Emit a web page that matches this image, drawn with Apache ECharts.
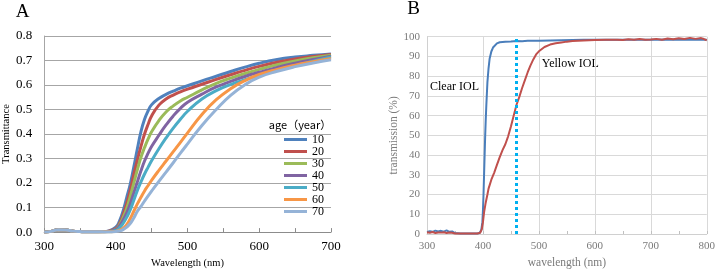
<!DOCTYPE html>
<html><head><meta charset="utf-8">
<script src="https://cdn.jsdelivr.net/npm/echarts@6/dist/echarts.min.js"></script>
<style>html,body{margin:0;padding:0;background:#fff}#c{width:718px;height:274px}</style>
</head><body><div id="c"></div>
<script>
// ---------- Panel A data ----------
const waveA = [300,310,320,330,340,350,360,370,380,390,400,405,410,415,420,425,430,435,440,445,450,460,470,480,490,500,520,540,560,580,600,625,650,675,700];
const ageNames = ['10','20','30','40','50','60','70'];
const age10 = [0,0.003,0.01,0.009,0.004,0.002,0.001,0.001,0.002,0.005,0.02,0.045,0.085,0.14,0.195,0.265,0.34,0.41,0.46,0.495,0.52,0.545,0.562,0.575,0.587,0.597,0.617,0.636,0.655,0.673,0.689,0.704,0.714,0.721,0.727];
const age20 = [0,0.003,0.01,0.009,0.004,0.002,0.001,0.001,0.001,0.004,0.015,0.035,0.07,0.115,0.17,0.235,0.295,0.35,0.4,0.44,0.475,0.518,0.543,0.559,0.572,0.583,0.603,0.623,0.642,0.66,0.676,0.693,0.706,0.716,0.725];
const age30 = [0,0.003,0.01,0.009,0.004,0.002,0.001,0.001,0.001,0.003,0.012,0.03,0.058,0.095,0.145,0.2,0.255,0.305,0.345,0.38,0.41,0.455,0.49,0.515,0.535,0.55,0.58,0.607,0.628,0.647,0.664,0.683,0.698,0.711,0.722];
const age40 = [0,0.003,0.01,0.009,0.004,0.002,0.001,0.001,0.001,0.002,0.01,0.025,0.048,0.078,0.115,0.16,0.205,0.25,0.29,0.322,0.35,0.395,0.437,0.474,0.505,0.53,0.563,0.592,0.615,0.635,0.652,0.672,0.689,0.704,0.718];
const age50 = [0,0.003,0.01,0.009,0.004,0.002,0.001,0.001,0.001,0.001,0.007,0.017,0.035,0.06,0.09,0.13,0.17,0.205,0.237,0.265,0.292,0.34,0.384,0.424,0.46,0.493,0.543,0.577,0.602,0.622,0.64,0.661,0.679,0.697,0.714];
const age60 = [0,0.003,0.01,0.009,0.004,0.002,0.001,0.001,0.001,0.001,0.003,0.008,0.015,0.03,0.055,0.085,0.115,0.142,0.168,0.19,0.212,0.252,0.29,0.328,0.366,0.405,0.48,0.54,0.585,0.618,0.643,0.664,0.681,0.695,0.708];
const age70 = [0,0.003,0.01,0.009,0.004,0.002,0.001,0.001,0.001,0,0.002,0.005,0.01,0.02,0.035,0.058,0.085,0.105,0.127,0.148,0.168,0.207,0.245,0.283,0.322,0.36,0.435,0.5,0.558,0.601,0.632,0.656,0.675,0.69,0.703];
const ageColors = ['#4f81bd','#c0504d','#9bbb59','#8064a2','#4bacc6','#f79646','#95b3d7'];

// ---------- Panel B data ----------
const clearWave = [300,305,310,315,320,325,330,335,340,345,350,360,370,380,390,394,397,399,400,401,402,403,404,405,406,407,408,410,412,415,418,420,425,430,440,450,460,470,480,490,500,520,540,560,580,600,650,700,750,800];
const clearVal  = [1.0,1.4,1.1,1.7,1.3,1.6,1.2,1.8,1.1,1.3,0.5,0.3,0.3,0.3,0.3,0.5,2,6,12,20,30,40,50,58,65,71,77,84,89,92.5,94.5,95.3,96.6,97.2,97.5,97.6,97.8,97.7,97.9,97.9,98,98.1,98.2,98.3,98.4,98.4,98.4,98.5,98.6,98.5];
const yellowWave = [300,305,310,315,320,325,330,335,340,345,350,360,370,380,390,395,398,400,402,405,408,410,415,420,425,430,435,440,445,450,455,460,465,470,475,480,485,490,495,500,510,520,530,540,550,560,580,600,620,640,650,660,670,680,690,700,710,720,730,740,750,760,770,780,790,795,800];
const yellowVal  = [0.9,0.6,1.0,0.5,0.8,0.7,0.9,0.5,0.8,0.6,0.3,0.2,0.2,0.2,0.3,0.6,2.5,6,11,16,20,23,27.5,31,35,39,42.5,45.5,49.5,54.5,60,65.5,69.5,74,78,82,85.5,88.5,91,92.6,94.8,96,96.7,97.1,97.5,97.8,98.1,98.3,98.4,98.5,98.3,98.7,98.4,98.8,98.5,98.6,98.9,98.5,99.1,98.7,99.2,98.8,99.4,98.9,99.3,98.8,98.2];
const markerWave = 460;
const markerRange = [0, 99.5];

// ---------- Build ----------
const ageData = [age10, age20, age30, age40, age50, age60, age70];
const serif = 'Liberation Serif';
const chart = echarts.init(document.getElementById('c'), null, {renderer: 'canvas'});

const seriesA = ageNames.map((n, k) => ({
  name: n, type: 'line', xAxisIndex: 0, yAxisIndex: 0,
  data: waveA.map((w, i) => [w, ageData[k][i]]),
  showSymbol: false, smooth: 0.5,
  lineStyle: {width: 3, color: ageColors[k]}, itemStyle: {color: ageColors[k]}
}));

const seriesB = [
  {name: 'Clear IOL', type: 'line', xAxisIndex: 1, yAxisIndex: 1, showSymbol: false,
   data: clearWave.map((w, i) => [w, clearVal[i]]), lineStyle: {width: 2, color: '#4a7ebb'}, itemStyle: {color: '#4a7ebb'}},
  {name: 'Yellow IOL', type: 'line', xAxisIndex: 1, yAxisIndex: 1, showSymbol: false,
   data: yellowWave.map((w, i) => [w, yellowVal[i]]), lineStyle: {width: 2, color: '#c0504d'}, itemStyle: {color: '#c0504d'}},
  {name: 'marker', type: 'line', xAxisIndex: 1, yAxisIndex: 1, showSymbol: false, z: 5,
   data: markerRange.map(v => [markerWave, v]), lineStyle: {width: 3, color: '#00b0f0', type: [3, 3]}}
];

function txt(text, x, y, size, family, color, align) {
  return {type: 'text', x: x, y: y, silent: true,
    style: {text: text, fontSize: size, fontFamily: family, fill: color,
            align: align, textAlign: align, verticalAlign: 'middle', textVerticalAlign: 'middle'}};
}

chart.setOption({
  animation: false,
  grid: [
    {left: 41, top: 36, width: 290, height: 198},
    {left: 427, top: 36.7, width: 285, height: 201}
  ],
  xAxis: [
    {type: 'value', gridIndex: 0, min: 300, max: 700, interval: 100,
     axisLine: {show: true, lineStyle: {color: '#8c8c8c'}},
     axisTick: {show: true, inside: true, length: 4, lineStyle: {color: '#8c8c8c'}},
     minorTick: {show: true, splitNumber: 2, length: 4, lineStyle: {color: '#8c8c8c'}},
     splitLine: {show: false},
     axisLabel: {color: '#000', fontFamily: serif, fontSize: 13, margin: 8},
     name: 'Wavelength (nm)', nameLocation: 'middle', nameGap: 25,
     nameTextStyle: {color: '#000', fontFamily: serif, fontSize: 10.5}},
    {type: 'value', gridIndex: 1, min: 300, max: 800, interval: 100,
     axisLine: {show: true, lineStyle: {color: '#d0d0d0'}},
     axisTick: {show: true, inside: true, length: 3, lineStyle: {color: '#c0c0c0'}},
     minorTick: {show: true, splitNumber: 2, length: 3, lineStyle: {color: '#c0c0c0'}},
     splitLine: {show: true, lineStyle: {color: '#d9d9d9'}},
     axisLabel: {color: '#7a7a7a', fontFamily: serif, fontSize: 11, margin: 7},
     name: 'wavelength (nm)', nameLocation: 'middle', nameGap: 23,
     nameTextStyle: {color: '#7a7a7a', fontFamily: serif, fontSize: 11.5}}
  ],
  yAxis: [
    {type: 'value', gridIndex: 0, min: 0, max: 0.8, interval: 0.1,
     axisLine: {show: true, lineStyle: {color: '#a6a6a6'}},
     axisTick: {show: false},
     splitLine: {show: true, lineStyle: {color: '#a6a6a6'}},
     axisLabel: {color: '#000', fontFamily: serif, fontSize: 13, margin: 12, formatter: v => v.toFixed(1)},
     name: 'Transmittance', nameLocation: 'middle', nameGap: 30, nameRotate: 90,
     nameTextStyle: {color: '#000', fontFamily: serif, fontSize: 10.5}},
    {type: 'value', gridIndex: 1, min: 0, max: 100, interval: 10,
     axisLine: {show: true, lineStyle: {color: '#d0d0d0'}},
     axisTick: {show: false},
     splitLine: {show: true, lineStyle: {color: '#d9d9d9'}},
     axisLabel: {color: '#7a7a7a', fontFamily: serif, fontSize: 11, margin: 7},
     name: 'transmission (%)', nameLocation: 'middle', nameGap: 27, nameRotate: 90,
     nameTextStyle: {color: '#7a7a7a', fontFamily: serif, fontSize: 11.5}}
  ],
  legend: {
    data: ageNames, orient: 'vertical', left: 284, top: 133.5, padding: 0,
    icon: 'rect', itemWidth: 23, itemHeight: 3, itemGap: 0,
    textStyle: {color: '#000', fontFamily: serif, fontSize: 12, lineHeight: 11.67}
  },
  graphic: [
    txt('A', 22.5, 12.5, 19, serif, '#000', 'center'),
    txt('B', 413.5, 8.8, 19, serif, '#000', 'center'),
    txt('age（year）', 300, 124.5, 11, 'Noto Sans CJK JP', '#000', 'center'),
    txt('Clear IOL', 430, 87.3, 12, serif, '#000', 'left'),
    txt('Yellow IOL', 541.7, 64.3, 12, serif, '#000', 'left')
  ],
  series: seriesA.concat(seriesB)
});
</script></body></html>
